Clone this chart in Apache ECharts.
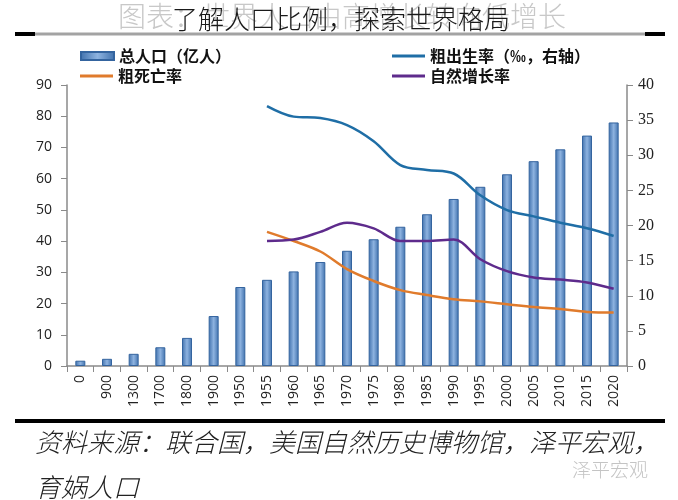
<!DOCTYPE html>
<html>
<head>
<meta charset="utf-8">
<script src="https://cdn.jsdelivr.net/npm/echarts@6/dist/echarts.min.js"></script>
<style>
html,body{margin:0;padding:0;background:#fff;}
#main{width:678px;height:500px;}
</style>
</head>
<body>
<div id="main"></div>
<script>
var categories = ['0','900','1300','1700','1800','1900','1950','1955','1960','1965','1970','1975','1980','1985','1990','1995','2000','2005','2010','2015','2020'];
var population = [1.7,2.3,3.9,6.0,9.0,16.0,25.3,27.6,30.3,33.3,36.9,40.6,44.6,48.6,53.5,57.4,61.4,65.6,69.4,73.8,78.0];
var birthRate  = [null,null,null,null,null,null,null,37.0,35.5,35.3,34.3,32.0,28.6,27.9,27.4,24.3,22.2,21.3,20.4,19.6,18.5];
var deathRate  = [null,null,null,null,null,null,null,19.1,17.8,16.3,13.8,12.1,10.8,10.1,9.5,9.2,8.8,8.4,8.1,7.7,7.6];
var growthRate = [null,null,null,null,null,null,null,17.8,18.0,19.1,20.4,19.6,17.8,17.8,18.0,15.2,13.5,12.6,12.3,11.9,11.0];
var leftTicks = {min:0, max:90, interval:10};
var rightTicks = {min:0, max:40, interval:5};
var names = {pop:'总人口（亿人）', birth:'粗出生率（‰，右轴）', death:'粗死亡率', growth:'自然增长率'};
var fadedTitle = '图表：世界人口由高增长转向低增长';
var mainTitle = '了解人口比例，探索世界格局';
var sourceLine1 = '资料来源：联合国，美国自然历史博物馆，泽平宏观，';
var sourceLine2 = '育娲人口';
var watermark = '泽平宏观';

var chart = echarts.init(document.getElementById('main'));
var CJK = '"Noto Sans CJK SC", sans-serif';
var legendText = {fontSize:16, fontWeight:'bold', color:'#111', fontFamily:CJK};
function mkLegend(name, left, top, h){
  return {data:[name], left:left, top:top, itemWidth:33, itemHeight:h, icon:'rect', itemGap:0, padding:0, textStyle:legendText, selectedMode:false};
}
var barGrad = new echarts.graphic.LinearGradient(0,0,1,0,[
  {offset:0,color:'#3f70ac'},{offset:0.5,color:'#8eb3e0'},{offset:1,color:'#3f70ac'}]);
chart.setOption({
  backgroundColor:'#fff',
  animation:false,
  grid:{left:67, right:51, top:85, bottom:134},
  legend:[
    mkLegend(names.pop, 80, 48, 8),
    mkLegend(names.death, 80, 68, 3),
    mkLegend(names.birth, 392, 48, 3),
    mkLegend(names.growth, 392, 68, 3)
  ],
  xAxis:{
    type:'category', data:categories, boundaryGap:true,
    axisLine:{lineStyle:{color:'#8a8a8a', width:1.5}},
    axisTick:{show:true, length:6, lineStyle:{color:'#8a8a8a'}},
    axisLabel:{rotate:90, fontSize:14, color:'#222', fontFamily:'"Open Sans", sans-serif', margin:9, interval:0}
  },
  yAxis:[
    {type:'value', min:leftTicks.min, max:leftTicks.max, interval:leftTicks.interval,
     splitLine:{show:false},
     axisLine:{show:true, lineStyle:{color:'#8a8a8a', width:1.5}},
     axisTick:{show:true, length:6, lineStyle:{color:'#8a8a8a'}},
     axisLabel:{fontSize:14, color:'#222', fontFamily:'"Open Sans", sans-serif', margin:15}},
    {type:'value', min:rightTicks.min, max:rightTicks.max, interval:rightTicks.interval,
     position:'right', splitLine:{show:false},
     axisLine:{show:true, lineStyle:{color:'#8a8a8a', width:1.5}},
     axisTick:{show:true, length:6, lineStyle:{color:'#8a8a8a'}},
     axisLabel:{fontSize:16, color:'#222', fontFamily:'"Liberation Serif", serif', margin:11}}
  ],
  series:[
    {name:names.pop, type:'bar', data:population, barWidth:10, yAxisIndex:0,
     itemStyle:{color:barGrad, borderColor:'#34649f', borderWidth:1}},
    {name:names.birth, type:'line', data:birthRate, yAxisIndex:1, smooth:0.35, symbol:'none',
     lineStyle:{color:'#1f6ea6', width:2.5}, itemStyle:{color:'#1f6ea6'}},
    {name:names.death, type:'line', data:deathRate, yAxisIndex:1, smooth:0.35, symbol:'none',
     lineStyle:{color:'#e07b2c', width:2.5}, itemStyle:{color:'#e07b2c'}},
    {name:names.growth, type:'line', data:growthRate, yAxisIndex:1, smooth:0.35, symbol:'none',
     lineStyle:{color:'#5e2b8c', width:2.5}, itemStyle:{color:'#5e2b8c'}}
  ],
  graphic:[
    {type:'text', left:118, top:2, z:1, style:{text:fadedTitle, fill:'#c8c8c8', font:'300 28px '+CJK}},
    {type:'text', left:172, top:6, z:2, style:{text:mainTitle, fill:'#1a1a1a', font:'300 26px '+CJK}},
    {type:'line', z:3, shape:{x1:15,y1:34,x2:665,y2:34}, style:{stroke:'#a3a3a3', lineWidth:3}},
    {type:'line', z:4, shape:{x1:15,y1:34,x2:35,y2:34}, style:{stroke:'#000', lineWidth:4}},
    {type:'line', z:4, shape:{x1:645,y1:34,x2:665,y2:34}, style:{stroke:'#000', lineWidth:4}},
    {type:'line', z:3, shape:{x1:15,y1:421,x2:665,y2:421}, style:{stroke:'#000', lineWidth:4}},
    {type:'text', left:35, top:429, style:{text:sourceLine1, fill:'#222', font:'italic 300 26px '+CJK}},
    {type:'text', left:35, top:474, style:{text:sourceLine2, fill:'#222', font:'italic 300 26px '+CJK}},
    {type:'text', left:572, top:460, style:{text:watermark, fill:'#c4c4c4', font:'300 19px '+CJK}}
  ]
});
</script>
</body>
</html>
